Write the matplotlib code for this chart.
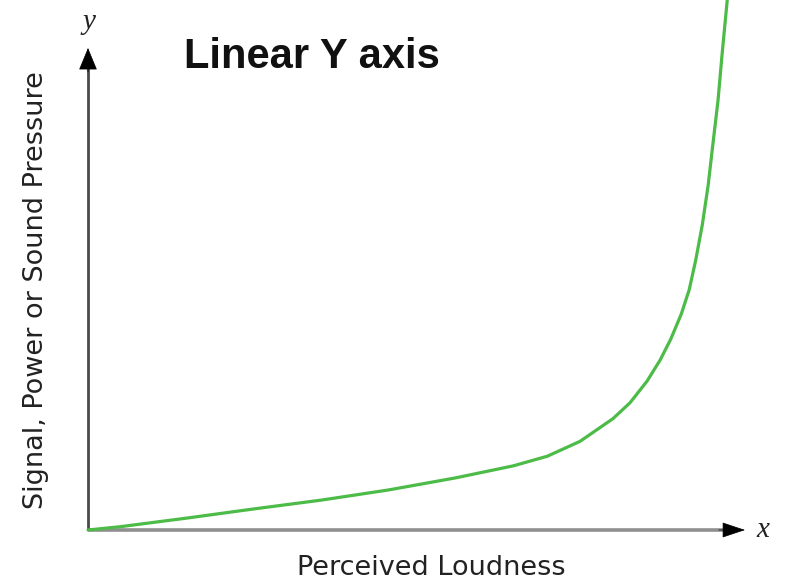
import matplotlib
matplotlib.use("Agg")
import matplotlib.pyplot as plt
import numpy as np

# Data (perceived loudness vs. linear signal)
loudness = [0.0, 0.50, 1.52, 2.54, 3.55, 4.57, 5.59, 6.47, 6.99, 7.49, 7.99,
            8.25, 8.51, 8.71, 8.87, 9.03, 9.15, 9.25, 9.35, 9.44, 9.51, 9.59,
            9.65, 9.73, 9.76]
signal = [0.0, 0.07, 0.25, 0.44, 0.62, 0.83, 1.08, 1.33, 1.53, 1.84, 2.31,
          2.64, 3.09, 3.53, 3.96, 4.48, 4.98, 5.60, 6.33, 7.16, 7.99, 8.92,
          9.85, 11.0, 11.31]

title = "Linear Y axis"
xlabel = "Perceived Loudness"
ylabel = "Signal, Power or Sound Pressure"

W, H = 787, 585
fig = plt.figure(figsize=(W / 100, H / 100), dpi=100)
ax = fig.add_axes([0, 0, 1, 1])
# pixel mapping: origin at (88, 530), 65.7 px per x unit, 48.2 px per y unit
sx, sy = 65.7, 48.2
ox, oy = 88, 530
ax.set_xlim(-ox / sx, (W - ox) / sx)
ax.set_ylim(-(H - oy) / sy, oy / sy)
ax.axis("off")

x_end = (745 - ox) / sx
y_end = (oy - 48) / sy

# x axis
ax.plot([0, x_end - 0.2], [0, 0], color="#8f8f8f", lw=2.6, solid_capstyle="butt", zorder=2)
ax.annotate("", xy=(x_end, 0), xytext=(x_end - 0.4, 0),
            arrowprops=dict(arrowstyle="-|>,head_length=1.5,head_width=0.5",
                            mutation_scale=10, color="black", lw=0.5,
                            shrinkA=0, shrinkB=0), zorder=3)
# y axis
ax.plot([0, 0], [0, y_end - 0.3], color="#4a4a4a", lw=2.0, solid_capstyle="butt", zorder=2)
ax.annotate("", xy=(0, y_end), xytext=(0, y_end - 0.5),
            arrowprops=dict(arrowstyle="-|>,head_length=1.45,head_width=0.6",
                            mutation_scale=10, color="black", lw=0.5,
                            shrinkA=0, shrinkB=0), zorder=3)

# curve
ax.plot(loudness, signal, color="#4cbb47", lw=2.3, zorder=4, solid_capstyle="round",
        solid_joinstyle="round")

# texts
ax.text((312 - ox) / sx, (oy - 57) / sy, title, fontsize=30, fontweight="bold",
        family="Liberation Sans", ha="center", va="center", color="#111111")
ax.text((431 - ox) / sx, (oy - 568) / sy, xlabel, fontsize=19.5, family="DejaVu Sans",
        ha="center", va="center", color="#222222")
ax.text((36 - ox) / sx, (oy - 290) / sy, ylabel, fontsize=19.5, family="DejaVu Sans",
        ha="center", va="center", rotation=90, color="#222222")
ax.text((89 - ox) / sx, (oy - 22) / sy, "y", fontsize=21, family="Liberation Serif",
        style="italic", ha="center", va="center", color="#222222")
ax.text((763 - ox) / sx, (oy - 530) / sy, "x", fontsize=21, family="Liberation Serif",
        style="italic", ha="center", va="center", color="#222222")

fig.savefig("out.png", dpi=100, facecolor="white")
